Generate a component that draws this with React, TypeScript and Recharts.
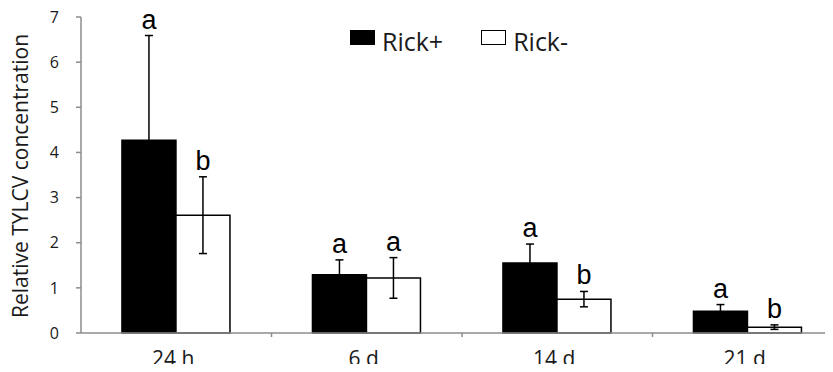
import React from "react"
import { Bar, BarChart, ErrorBar, LabelList, Legend, XAxis, YAxis } from "recharts"

// values
const times = ["24 h", "6 d", "14 d", "21 d"]
const rickPlus = [4.27, 1.29, 1.55, 0.48]
const rickPlusErr = [2.32, 0.33, 0.42, 0.15]
const rickMinus = [2.61, 1.22, 0.75, 0.13]
const rickMinusErr = [0.85, 0.45, 0.17, 0.05]
const rickPlusLetters = ["a", "a", "a", "a"]
const rickMinusLetters = ["b", "a", "b", "b"]
const yTicks = [0, 1, 2, 3, 4, 5, 6, 7]

const data = times.map((time, i) => ({
  time,
  plus: rickPlus[i],
  plusErr: rickPlusErr[i],
  plusLetter: rickPlusLetters[i],
  minus: rickMinus[i],
  minusErr: rickMinusErr[i],
  minusLetter: rickMinusLetters[i],
}))

const WIDTH = 840
const HEIGHT = 364
const X_AXIS_HEIGHT = 39
const PLOT_BOTTOM = HEIGHT - X_AXIS_HEIGHT
const AXIS_GREY = "#8c8c8c"
const FONT = "'Open Sans', sans-serif"

function letterRenderer(values: number[], errs: number[]) {
  return (props: any) => {
    const vb = props.viewBox ?? {}
    const x = props.x ?? vb.x
    const y = props.y ?? vb.y
    const width = props.width ?? vb.width
    const height = Math.abs(props.height ?? vb.height)
    const i = props.index
    const perUnit = height / values[i]
    const errTop = y - errs[i] * perUnit
    return (
      <text
        x={x + width / 2}
        y={errTop - 7}
        textAnchor="middle"
        fontFamily="'Liberation Sans', Arial, sans-serif"
        fontSize={27}
        fill="#000"
      >
        {props.value}
      </text>
    )
  }
}

function TimeTick(props: any) {
  const { x, payload, index, width } = props
  const band = width / times.length
  return (
    <g>
      {index > 0 && (
        <line x1={x - band / 2} x2={x - band / 2} y1={PLOT_BOTTOM} y2={PLOT_BOTTOM + 4} stroke={AXIS_GREY} strokeWidth={1.5} />
      )}
      <text x={x - 3} y={PLOT_BOTTOM + 33} textAnchor="middle" fontFamily={FONT} fontSize={21} fill="#1a1a1a">
        {payload.value}
      </text>
    </g>
  )
}

function RickLegend() {
  const item = (label: string, fill: string, gap: number) => (
    <div style={{ display: "flex", alignItems: "flex-start", marginRight: gap }}>
      <div
        style={{
          width: 23,
          height: 13,
          marginTop: 4,
          marginRight: 7,
          background: fill,
          border: "1.5px solid #000",
        }}
      />
      <span style={{ fontFamily: FONT, fontSize: 25, lineHeight: "30px", color: "#1a1a1a" }}>{label}</span>
    </div>
  )
  return (
    <div style={{ display: "flex" }}>
      {item("Rick+", "#000", 38)}
      {item("Rick-", "#fff", 0)}
    </div>
  )
}

export default function App() {
  return (
    <div style={{ position: "relative", width: 825, height: HEIGHT, overflow: "hidden", marginBottom: -8 }}>
      <BarChart
        width={WIDTH}
        height={HEIGHT}
        data={data}
        margin={{ top: 9, right: 5, bottom: 0, left: 0 }}
        barCategoryGap="21.5%"
        barGap={0}
      >
        <XAxis
          dataKey="time"
          height={X_AXIS_HEIGHT}
          axisLine={{ stroke: AXIS_GREY, strokeWidth: 1.5 }}
          tickLine={false}
          tick={<TimeTick />}
          interval={0}
        />
        <YAxis
          width={73}
          domain={[0, 7]}
          ticks={yTicks}
          interval={0}
          axisLine={{ stroke: AXIS_GREY, strokeWidth: 1.5 }}
          tickLine={{ stroke: AXIS_GREY, strokeWidth: 1.5 }}
          tickSize={5}
          tickMargin={17}
          tick={{ fontFamily: FONT, fontSize: 16, fill: "#1a1a1a" }}
          label={{
            content: (p: any) => {
              const vb = p.viewBox
              const cy = vb.y + vb.height / 2 + 1
              return (
                <text
                  transform={`translate(20, ${cy}) rotate(-90)`}
                  textAnchor="middle"
                  fontFamily={FONT}
                  fontSize={21}
                  fill="#1a1a1a"
                >
                  Relative TYLCV concentration
                </text>
              )
            },
          }}
        />
        <Legend
          verticalAlign="middle"
          align="center"
          content={<RickLegend />}
          wrapperStyle={{ top: 18, left: 342, width: "auto" }}
        />
        <Bar dataKey="plus" name="Rick+" fill="#000" stroke="#000" strokeWidth={1.5} isAnimationActive={false}>
          <ErrorBar dataKey="plusErr" width={4} stroke="#000" strokeWidth={1.5} direction="y" />
          <LabelList dataKey="plusLetter" content={letterRenderer(rickPlus, rickPlusErr)} />
        </Bar>
        <Bar dataKey="minus" name="Rick-" fill="#fff" stroke="#000" strokeWidth={1.5} isAnimationActive={false}>
          <ErrorBar dataKey="minusErr" width={4} stroke="#000" strokeWidth={1.5} direction="y" />
          <LabelList dataKey="minusLetter" content={letterRenderer(rickMinus, rickMinusErr)} />
        </Bar>
      </BarChart>
    </div>
  )
}
